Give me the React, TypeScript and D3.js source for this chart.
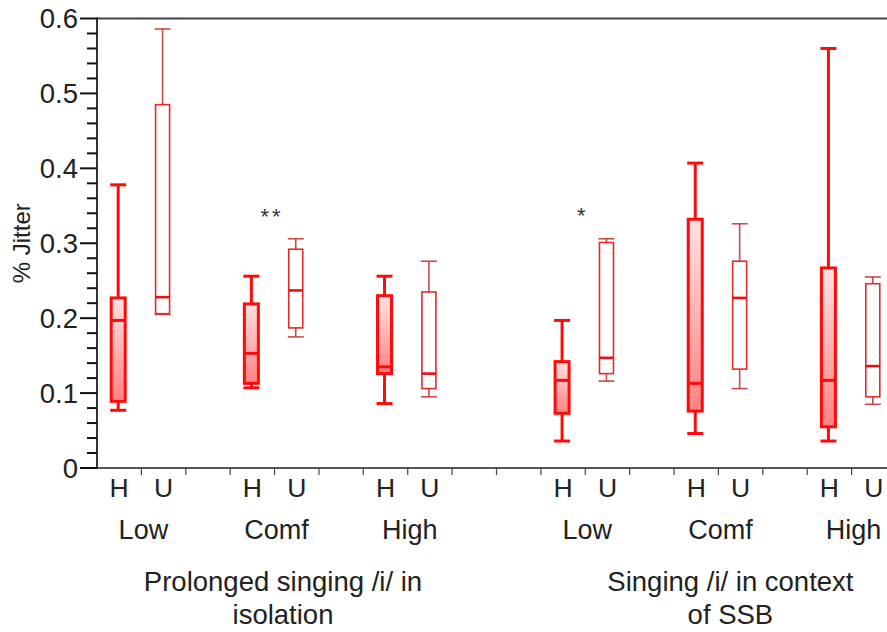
import React from "react";
import * as d3 from "d3";

// ---- data ----
const slotLabels = ["H", "U", "", "H", "U", "", "H", "U", "", "", "H", "U", "", "H", "U", "", "H", "U"];
const levelLabels = ["Low", "Comf", "High", "Low", "Comf", "High"];
const levelSlots = [1, 4, 7, 11, 14, 17];
const groupLine1 = ["Prolonged singing /i/ in", "Singing /i/ in context"];
const groupLine2 = ["isolation", "of SSB"];
const groupSlots = [4.19, 14.27];
const yMajorTicks = [0, 0.1, 0.2, 0.3, 0.4, 0.5, 0.6];
const yTickLabels = ["0", "0.1", "0.2", "0.3", "0.4", "0.5", "0.6"];

const boxSlots = [0, 1, 3, 4, 6, 7, 10, 11, 13, 14, 16, 17];
const boxKinds = ["H", "U", "H", "U", "H", "U", "H", "U", "H", "U", "H", "U"];
const whiskerLow = [0.077, 0.205, 0.107, 0.175, 0.086, 0.095, 0.036, 0.116, 0.046, 0.106, 0.036, 0.085];
const q1 = [0.089, 0.206, 0.113, 0.187, 0.126, 0.106, 0.073, 0.126, 0.076, 0.132, 0.055, 0.095];
const median = [0.197, 0.228, 0.153, 0.237, 0.135, 0.126, 0.117, 0.147, 0.113, 0.227, 0.117, 0.136];
const q3 = [0.227, 0.485, 0.219, 0.292, 0.230, 0.235, 0.142, 0.301, 0.332, 0.276, 0.267, 0.246];
const whiskerHigh = [0.378, 0.586, 0.256, 0.306, 0.256, 0.276, 0.197, 0.306, 0.407, 0.326, 0.560, 0.255];

const sigLabels = ["**", "*"];
const sigSlots = [4, 11];
const sigValues = [0.343, 0.344];

const yLabel = "% Jitter";

export default function App() {
  const W = 887;
  const H = 632;
  const left = 97;
  const x = d3.scaleLinear().domain([0, 18]).range([left, 896]);
  const y = d3.scaleLinear().domain([0, 0.6]).range([468, 18.5]);
  const minorTicks = d3.range(0, 0.6001, 0.02).filter(
    (v) => Math.abs(v * 10 - Math.round(v * 10)) > 1e-6
  );
  const font = "'Liberation Sans', Arial, sans-serif";
  const boxW = 14;

  return (
    <svg
      width={W}
      height={H}
      style={{ position: "absolute", left: 0, top: 0, background: "#fff" }}
      fontFamily={font}
    >
      <defs>
        <linearGradient id="hfill" x1="0" y1="0" x2="0" y2="1">
          <stop offset="0%" stopColor="#ffe2e2" />
          <stop offset="100%" stopColor="#ff8282" />
        </linearGradient>
      </defs>
      <rect x={0} y={0} width={W} height={H} fill="#fff" />

      {/* frame: top line, left axis, bottom axis */}
      <line x1={left} x2={W} y1={y(0.6)} y2={y(0.6)} stroke="#444" strokeWidth={2} />
      <line x1={left} x2={W} y1={y(0)} y2={y(0)} stroke="#555" strokeWidth={2} />
      <line x1={left} x2={left} y1={y(0.6) - 1} y2={y(0) + 1} stroke="#333" strokeWidth={2} />

      {/* y ticks */}
      {yMajorTicks.map((v, i) => (
        <g key={"ym" + i}>
          <line x1={left - 17} x2={left} y1={y(v)} y2={y(v)} stroke="#111" strokeWidth={2} />
          <text x={78} y={y(v) + 9.5} textAnchor="end" fontSize={27.5} fill="#222">
            {yTickLabels[i]}
          </text>
        </g>
      ))}
      {minorTicks.map((v, i) => (
        <line key={"yn" + i} x1={left - 10} x2={left} y1={y(v)} y2={y(v)} stroke="#111" strokeWidth={2} />
      ))}

      {/* y label */}
      <text
        transform={`translate(30,${(y(0) + y(0.6)) / 2}) rotate(-90)`}
        textAnchor="middle"
        fontSize={24}
        fill="#222"
      >
        {yLabel}
      </text>

      {/* x ticks */}
      {d3.range(1, 18).map((k) => (
        <line key={"xt" + k} x1={x(k)} x2={x(k)} y1={y(0)} y2={y(0) + 7} stroke="#444" strokeWidth={1.2} />
      ))}

      {/* slot labels */}
      {slotLabels.map((s, i) =>
        s ? (
          <text key={"sl" + i} x={x(i + 0.5)} y={497} textAnchor="middle" fontSize={26.5} fill="#222">
            {s}
          </text>
        ) : null
      )}

      {/* level labels */}
      {levelLabels.map((s, i) => (
        <text key={"ll" + i} x={x(levelSlots[i]) + 2} y={539} textAnchor="middle" fontSize={27} fill="#222">
          {s}
        </text>
      ))}

      {/* group labels */}
      {groupLine1.map((s, i) => (
        <g key={"gl" + i}>
          <text x={x(groupSlots[i])} y={591} textAnchor="middle" fontSize={27.5} fill="#222">
            {s}
          </text>
          <text x={x(groupSlots[i])} y={624} textAnchor="middle" fontSize={27.5} fill="#222">
            {groupLine2[i]}
          </text>
        </g>
      ))}

      {/* boxes */}
      {boxSlots.map((slot, i) => {
        const cx = x(slot + 0.5) - 1;
        const isH = boxKinds[i] === "H";
        const col = isH ? "#ff0a0a" : "#e42a2a";
        const wcol = isH ? "#ff0a0a" : "#c84a4a";
        const sw = isH ? 3 : 1.6;
        const capW = boxW + 2;
        return (
          <g key={"b" + i}>
            <line x1={cx} x2={cx} y1={y(whiskerHigh[i])} y2={y(q3[i])} stroke={wcol} strokeWidth={sw} />
            <line x1={cx} x2={cx} y1={y(q1[i])} y2={y(whiskerLow[i])} stroke={wcol} strokeWidth={sw} />
            <line
              x1={cx - capW / 2}
              x2={cx + capW / 2}
              y1={y(whiskerHigh[i])}
              y2={y(whiskerHigh[i])}
              stroke={wcol}
              strokeWidth={sw}
            />
            <line
              x1={cx - capW / 2}
              x2={cx + capW / 2}
              y1={y(whiskerLow[i])}
              y2={y(whiskerLow[i])}
              stroke={wcol}
              strokeWidth={sw}
            />
            <rect
              x={cx - boxW / 2}
              y={y(q3[i])}
              width={boxW}
              height={Math.max(0.5, y(q1[i]) - y(q3[i]))}
              fill={isH ? "url(#hfill)" : "#fff"}
              stroke={col}
              strokeWidth={sw}
            />
            <line
              x1={cx - boxW / 2}
              x2={cx + boxW / 2}
              y1={y(median[i])}
              y2={y(median[i])}
              stroke={isH ? "#ff0a0a" : "#e81010"}
              strokeWidth={isH ? 3 : 2.6}
            />
          </g>
        );
      })}

      {/* significance */}
      {sigLabels.map((s, i) =>
        s.split("").map((c, j) => (
          <text
            key={"sg" + i + "_" + j}
            x={x(sigSlots[i]) - 4 + (j - (s.length - 1) / 2) * 11.7}
            y={y(sigValues[i]) + 12.5}
            textAnchor="middle"
            fontSize={22}
            fill="#333"
          >
            {c}
          </text>
        ))
      )}
    </svg>
  );
}
